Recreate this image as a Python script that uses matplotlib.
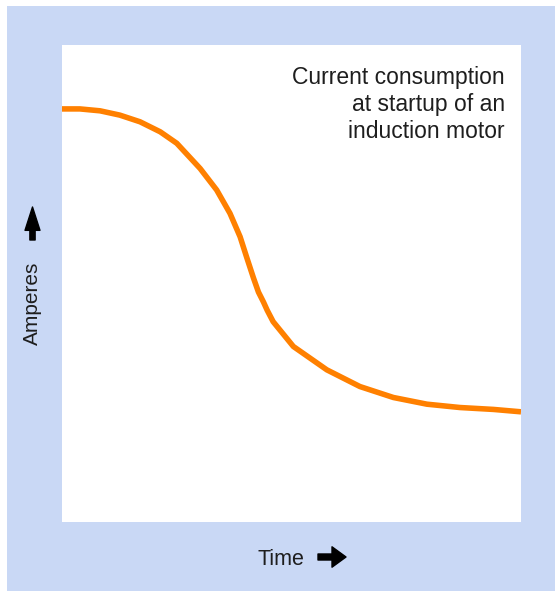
import matplotlib.pyplot as plt
from matplotlib.patches import Rectangle

# (time and amperes in percent of the plot area)
time = [0, 3.9, 8.3, 12.6, 17.0, 21.4, 25.0, 30.1, 33.7, 36.6, 38.8, 40.2,
        41.7, 42.8, 43.9, 44.7, 46.0, 50.4, 57.7, 64.9, 72.2, 79.5, 86.7, 94.0, 100]
amps = [86.6, 86.6, 86.2, 85.3, 83.9, 81.8, 79.4, 74.1, 69.6, 64.7, 59.8, 55.6,
        51.2, 48.2, 46.1, 44.4, 42.0, 36.8, 31.9, 28.4, 26.1, 24.7, 24.0, 23.6, 23.1]

note = 'Current consumption\nat startup of an\ninduction motor'
blue = '#c9d8f5'
orange = '#ff8000'
ink = '#1e1e1e'

plt.rcParams['font.family'] = ['Liberation Sans', 'DejaVu Sans']

fig = plt.figure(figsize=(5.55, 5.91), dpi=100)
fig.patches.append(Rectangle((7 / 555, 0), 1, 585 / 591, transform=fig.transFigure,
                             facecolor=blue, edgecolor='none', zorder=-10))

ax = fig.add_axes([62 / 555, 69 / 591, 459 / 555, 477 / 591])
ax.plot(time, amps, color=orange, lw=4, solid_capstyle='butt', solid_joinstyle='round')
ax.set_xlim(0, 100)
ax.set_ylim(0, 100)
ax.set_xticks([])
ax.set_yticks([])
for s in ax.spines.values():
    s.set_visible(False)

ax.text(0.965, 0.955, note, transform=ax.transAxes, ha='right', va='top',
        fontsize=16.5, color=ink, linespacing=1.21)

# axis labels with arrows
fig.text(32 / 555, 1 - 303.5 / 591, 'Amperes', rotation=90, ha='center', va='center',
         fontsize=15, color=ink)
fig.text(257 / 555, 26 / 591, 'Time', ha='left', va='baseline',
         fontsize=15.5, color=ink)

up = dict(arrowstyle='simple,head_width=0.77,head_length=1.2,tail_width=0.27',
          color='black', mutation_scale=14, shrinkA=0, shrinkB=0)
right = dict(arrowstyle='simple,head_width=1.05,head_length=0.72,tail_width=0.31',
             color='black', mutation_scale=14, shrinkA=0, shrinkB=0)
ax.annotate('', xy=(32.5, 384), xytext=(32.5, 351), xycoords='figure pixels',
            textcoords='figure pixels', arrowprops=up, annotation_clip=False)
ax.annotate('', xy=(346, 34), xytext=(318, 34), xycoords='figure pixels',
            textcoords='figure pixels', arrowprops=right, annotation_clip=False)

fig.savefig('out.png', dpi=100, facecolor='white')
